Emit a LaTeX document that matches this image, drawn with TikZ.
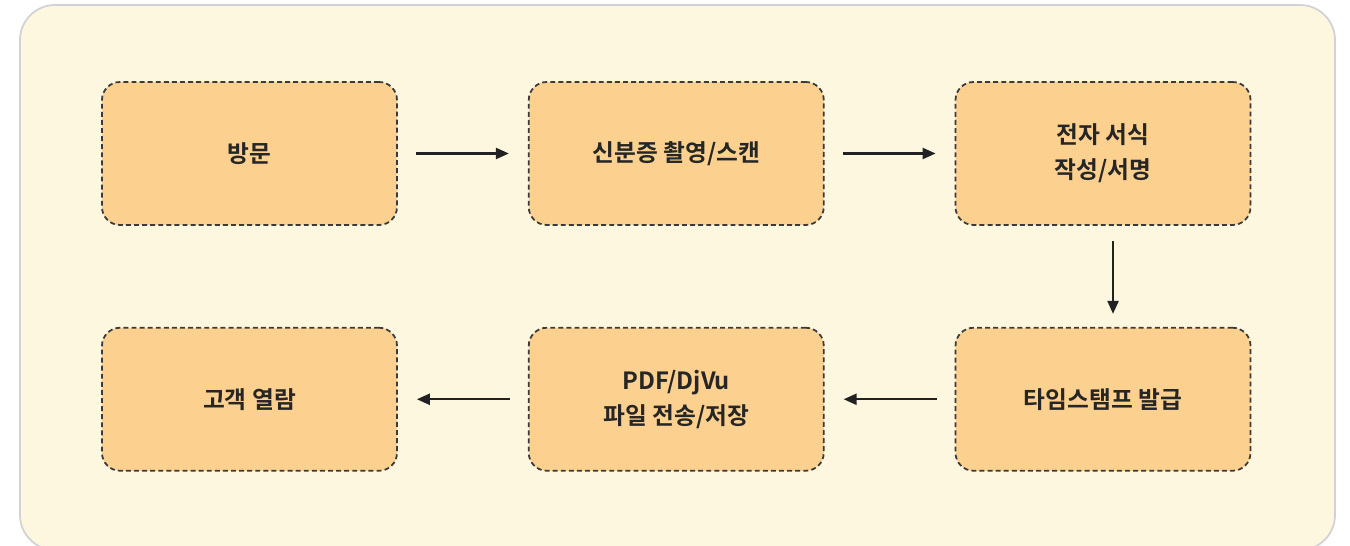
\documentclass[tikz,border=0pt]{standalone}
\usepackage{fontspec}
\setmainfont{Noto Sans CJK KR}[BoldFont={* Bold}]
\usetikzlibrary{positioning, arrows.meta}
\definecolor{panelfill}{HTML}{FEF7E0}
\definecolor{panelline}{HTML}{D2D2D4}
\definecolor{boxfill}{HTML}{FCD08E}
\definecolor{boxline}{HTML}{3A3A3A}
\definecolor{arrowcol}{HTML}{222222}

\begin{document}
\begin{tikzpicture}[
        stage/.style={draw=boxline, fill=boxfill, line width=1pt, dash pattern=on 2.8pt off 1.8pt,
            rounded corners=0.36cm, minimum width=5.9cm, minimum height=2.86cm,
            align=center, font=\fontsize{13.5}{20}\selectfont\bfseries, text=black!85},
        flow/.style={-{Triangle[length=0.26cm, width=0.22cm]}, draw=arrowcol, line width=1.3pt,
            shorten <=0.36cm, shorten >=0.38cm}
    ]
    \useasboundingbox (0,0) rectangle (27,-10.92);
    \draw[panelline, fill=panelfill, line width=1pt, rounded corners=0.7cm] (0.4,-0.1) rectangle (26.7,-11.0);
    \node[stage] (visit) at (4.99,-3.07) {방문};
    \node[stage, right=2.6cm of visit] (scan) {신분증 촬영/스캔};
    \node[stage, right=2.6cm of scan] (form) {전자 서식\\작성/서명};
    \node[stage, below=2.02cm of form] (stamp) {타임스탬프 발급};
    \node[stage, left=2.6cm of stamp] (send) {PDF/DjVu\\파일 전송/저장};
    \node[stage, left=2.6cm of send] (view) {고객 열람};
    \draw[flow] (visit) -- (scan);
    \draw[flow] (scan) -- (form);
    \draw[flow, shorten <=0.3cm, shorten >=0.26cm] ([xshift=0.2cm]form.south) -- ([xshift=0.2cm]stamp.north);
    \draw[flow] (stamp) -- (send);
    \draw[flow] (send) -- (view);
\end{tikzpicture}
\end{document}
